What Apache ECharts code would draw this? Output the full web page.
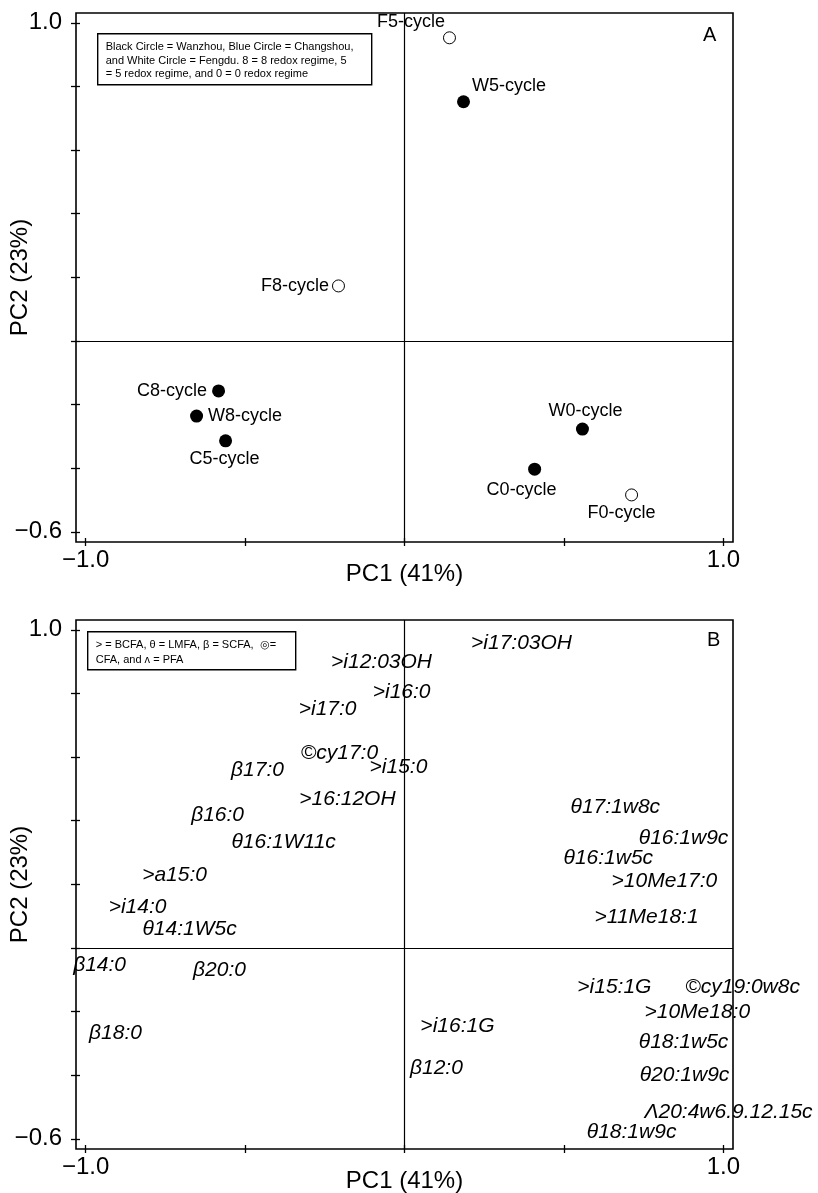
<!DOCTYPE html>
<html>
<head>
<meta charset="utf-8">
<title>PCA of redox-regime sites and fatty acids</title>
<script src="https://cdn.jsdelivr.net/npm/echarts@6/dist/echarts.min.js"></script>
<style>
  html, body { margin: 0; padding: 0; background: #fff; }
  #chart { width: 818px; height: 1193px; }
</style>
</head>
<body>
<div id="chart"></div>
<script>
// Panel A: site scores (W = Wanzhou, C = Changshou, F = Fengdu)
const siteLabels = ['F5-cycle', 'W5-cycle', 'F8-cycle', 'C8-cycle', 'W8-cycle', 'C5-cycle', 'W0-cycle', 'C0-cycle', 'F0-cycle'];
const sitePC1 = [0.141, 0.185, -0.207, -0.583, -0.652, -0.561, 0.558, 0.408, 0.712];
const sitePC2 = [0.953, 0.752, 0.173, -0.157, -0.236, -0.314, -0.277, -0.403, -0.484];

// Panel B: fatty acid loadings
const fameLabels = ['>i17:03OH', '>i12:03OH', '>i16:0', '>i17:0', '©cy17:0', '>i15:0', 'β17:0', '>16:12OH', 'β16:0',
  'θ16:1W11c', '>a15:0', '>i14:0', 'θ14:1W5c', 'β14:0', 'β20:0', 'β18:0', 'θ17:1w8c', 'θ16:1w9c', 'θ16:1w5c',
  '>10Me17:0', '>11Me18:1', '>i15:1G', '©cy19:0w8c', '>10Me18:0', '>i16:1G', 'θ18:1w5c', 'β12:0', 'θ20:1w9c',
  'Λ20:4w6.9.12.15c', 'θ18:1w9c'];
const famePC1 = [0.367, -0.072, -0.009, -0.241, -0.204, -0.019, -0.461, -0.179, -0.586,
  -0.379, -0.721, -0.837, -0.674, -0.956, -0.580, -0.906, 0.661, 0.875, 0.639,
  0.815, 0.759, 0.658, 1.060, 0.918, 0.166, 0.875, 0.100, 0.878,
  1.016, 0.712];
const famePC2 = [0.959, 0.899, 0.805, 0.752, 0.613, 0.569, 0.560, 0.469, 0.418,
  0.333, 0.230, 0.129, 0.060, -0.053, -0.069, -0.267, 0.443, 0.346, 0.283,
  0.211, 0.097, -0.123, -0.123, -0.201, -0.245, -0.296, -0.377, -0.399,
  -0.516, -0.579];

// Axis ticks
const xTicks = [-1.0, -0.5, 0, 0.5, 1.0];
const yTicks = [-0.6, -0.4, -0.2, 0, 0.2, 0.4, 0.6, 0.8, 1.0];
const xTickLabels = [-1.0, 1.0];
const yTickLabels = [-0.6, 1.0];
const xTitle = 'PC1 (41%)';
const yTitle = 'PC2 (23%)';

const FONT = '"Liberation Sans", Arial, Helvetica, sans-serif';
const X_MIN = -1.03, X_MAX = 1.03, Y_MIN = -0.632, Y_MAX = 1.031;

const fmt = v => (v < 0 ? '\u2212' : '') + Math.abs(v).toFixed(1);

// label placement for each site marker
const sitePlacement = {
  'F5-cycle': { position: 'left', distance: 0, offset: [2, -16] },
  'W5-cycle': { position: 'right', distance: 2, offset: [0, -16] },
  'F8-cycle': { position: 'left', distance: 3, offset: [0, 0] },
  'C8-cycle': { position: 'left', distance: 5, offset: [0, 0] },
  'W8-cycle': { position: 'right', distance: 5, offset: [0, 0] },
  'C5-cycle': { position: 'bottom', distance: 3, offset: [-1, 0] },
  'W0-cycle': { position: 'top', distance: 3, offset: [3, 0] },
  'C0-cycle': { position: 'bottom', distance: 5, offset: [-13, 0] },
  'F0-cycle': { position: 'bottom', distance: 3, offset: [-10, 0] }
};

const grids = [
  { left: 76, top: 13, width: 657, height: 529 },
  { left: 76, top: 620, width: 657, height: 529 }
];

const tickStyle = { color: '#000', width: 1.3 };

function mainX(gi) {
  return {
    type: 'value', gridIndex: gi, min: X_MIN, max: X_MAX, position: 'bottom',
    name: xTitle, nameLocation: 'middle', nameGap: 20, nameMoveOverlap: false,
    nameTextStyle: { fontFamily: FONT, fontSize: 24, color: '#000', verticalAlign: 'top' },
    axisLine: { show: false, onZero: false },
    splitLine: { show: false },
    axisTick: { show: true, inside: false, length: 4, customValues: xTicks, lineStyle: tickStyle },
    axisLabel: { show: true, customValues: xTickLabels, formatter: fmt, margin: 6,
      fontFamily: FONT, fontSize: 24, color: '#000' }
  };
}
function innerX(gi) {
  return {
    type: 'value', gridIndex: gi, min: X_MIN, max: X_MAX, position: 'bottom',
    axisLine: { show: false, onZero: false }, splitLine: { show: false }, axisLabel: { show: false },
    axisTick: { show: true, inside: true, length: 4, customValues: xTicks, lineStyle: tickStyle }
  };
}
function mainY(gi) {
  return {
    type: 'value', gridIndex: gi, min: Y_MIN, max: Y_MAX, position: 'left',
    name: yTitle, nameLocation: 'middle', nameGap: 44, nameMoveOverlap: false,
    nameTextStyle: { fontFamily: FONT, fontSize: 24, color: '#000' },
    axisLine: { show: false, onZero: false },
    splitLine: { show: false },
    axisTick: { show: true, inside: false, length: 5, customValues: yTicks, lineStyle: tickStyle },
    axisLabel: { show: true, customValues: yTickLabels, formatter: fmt, margin: 14,
      fontFamily: FONT, fontSize: 24, color: '#000' }
  };
}
function innerY(gi) {
  return {
    type: 'value', gridIndex: gi, min: Y_MIN, max: Y_MAX, position: 'left',
    axisLine: { show: false, onZero: false }, splitLine: { show: false }, axisLabel: { show: false },
    axisTick: { show: true, inside: true, length: 4, customValues: yTicks, lineStyle: tickStyle }
  };
}

const zeroLines = {
  silent: true, symbol: 'none', animation: false,
  label: { show: false },
  lineStyle: { color: '#000', width: 1.2, type: 'solid', opacity: 1 },
  emphasis: { disabled: true },
  data: [{ xAxis: 0 }, { yAxis: 0 }]
};

const siteData = siteLabels.map((name, i) => {
  const open = name.charAt(0) === 'F';
  const p = sitePlacement[name];
  return {
    name: name,
    value: [sitePC1[i], sitePC2[i]],
    symbolSize: open ? 12 : 13,
    itemStyle: open
      ? { color: '#fff', borderColor: '#000', borderWidth: 1, opacity: 1 }
      : { color: '#000', borderColor: '#000', borderWidth: 0, opacity: 1 },
    label: { position: p.position, distance: p.distance, offset: p.offset }
  };
});

const fameData = fameLabels.map((name, i) => ({ name: name, value: [famePC1[i], famePC2[i]] }));

const option = {
  animation: false,
  backgroundColor: '#fff',
  grid: grids.map(g => Object.assign({
    show: true, borderColor: '#000', borderWidth: 1.6, backgroundColor: 'transparent',
    containLabel: false, outerBoundsMode: 'none'
  }, g)),
  xAxis: [mainX(0), mainX(1), innerX(0), innerX(1)],
  yAxis: [mainY(0), mainY(1), innerY(0), innerY(1)],
  series: [
    {
      type: 'scatter', xAxisIndex: 0, yAxisIndex: 0, symbol: 'circle',
      data: siteData,
      itemStyle: { opacity: 1 },
      label: { show: true, formatter: '{b}', fontFamily: FONT, fontSize: 18, color: '#000', opacity: 1 },
      markLine: zeroLines,
      z: 5
    },
    {
      type: 'scatter', xAxisIndex: 1, yAxisIndex: 1, symbol: 'circle', symbolSize: 1,
      clip: false,
      itemStyle: { color: 'rgba(0,0,0,0)', opacity: 1 },
      data: fameData,
      label: { show: true, position: 'inside', formatter: '{b}', fontFamily: FONT, fontSize: 21,
        fontStyle: 'italic', color: '#000', opacity: 1 },
      labelLayout: { hideOverlap: false },
      markLine: zeroLines,
      z: 5
    }
  ],
  graphic: [
    {
      type: 'group', left: 97, top: 33, z: 20,
      children: [
        { type: 'rect', shape: { x: 0, y: 0, width: 274, height: 51 },
          style: { fill: '#fff', stroke: '#000', lineWidth: 1.4 } },
        { type: 'text', x: 8, y: 7,
          style: { text: 'Black Circle = Wanzhou, Blue Circle = Changshou,\nand White Circle = Fengdu. 8 = 8 redox regime, 5\n= 5 redox regime, and 0 = 0 redox regime',
            font: '11px ' + FONT, fill: '#000', lineHeight: 13.5 } }
      ]
    },
    { type: 'text', left: 703, top: 25, z: 20,
      style: { text: 'A', font: '20px ' + FONT, fill: '#000' } },
    {
      type: 'group', left: 87, top: 631, z: 20,
      children: [
        { type: 'rect', shape: { x: 0, y: 0, width: 208, height: 38 },
          style: { fill: '#fff', stroke: '#000', lineWidth: 1.4 } },
        { type: 'text', x: 8, y: 6,
          style: { text: '> = BCFA, \u03b8 = LMFA, \u03b2 = SCFA,  \u25ce=\nCFA, and \u028c = PFA',
            font: '11px ' + FONT, fill: '#000', lineHeight: 15 } }
      ]
    },
    { type: 'text', left: 707, top: 630, z: 20,
      style: { text: 'B', font: '20px ' + FONT, fill: '#000' } }
  ]
};

const chart = echarts.init(document.getElementById('chart'), null, { renderer: 'canvas' });
chart.setOption(option);
</script>
</body>
</html>
